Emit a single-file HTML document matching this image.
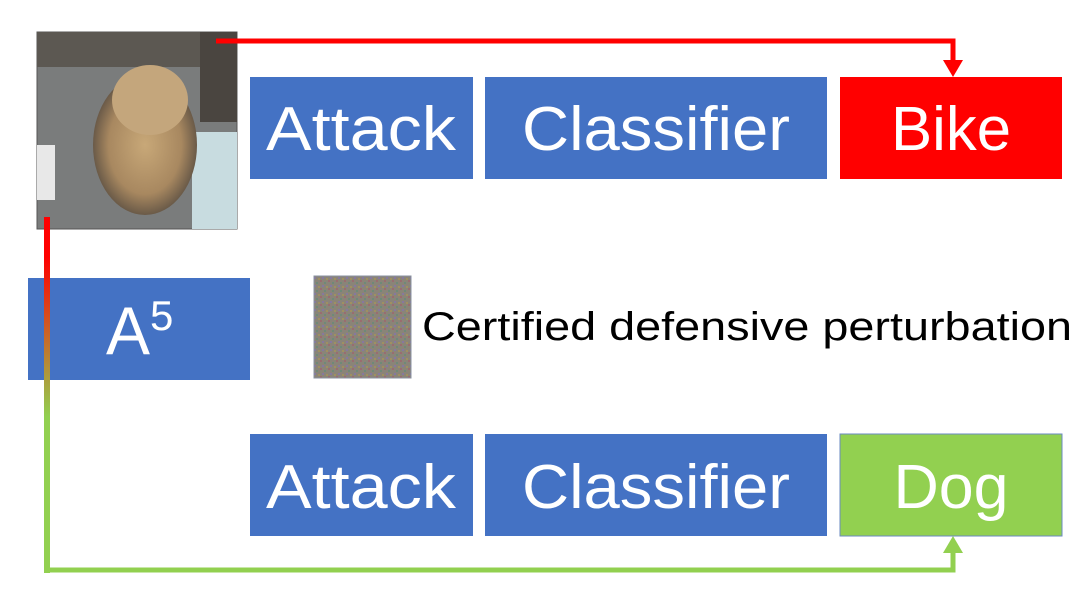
<!DOCTYPE html>
<html><head><meta charset="utf-8"><style>
html,body{margin:0;padding:0;background:#fff;}
svg{display:block}
text{font-family:"Liberation Sans",sans-serif;}
</style></head><body>
<svg width="1090" height="613" viewBox="0 0 1090 613" xmlns="http://www.w3.org/2000/svg">
<defs>
<linearGradient id="vg" x1="0" y1="0" x2="0" y2="1">
<stop offset="0" stop-color="#ff0000"/><stop offset="0.2" stop-color="#ff0000"/><stop offset="1" stop-color="#92d050"/>
</linearGradient>
<radialGradient id="dogg" cx="0.5" cy="0.5" r="0.5">
<stop offset="0" stop-color="#c8a878"/><stop offset="0.7" stop-color="#a88860"/><stop offset="1" stop-color="#6a5a48"/>
</radialGradient>
<pattern id="noise" width="8" height="8" patternUnits="userSpaceOnUse">
<rect width="8" height="8" fill="#8a8478"/>
<rect x="0" y="0" width="2" height="2" fill="#9a6c70"/>
<rect x="4" y="2" width="2" height="2" fill="#6e8a78"/>
<rect x="2" y="5" width="2" height="2" fill="#8678a0"/>
<rect x="6" y="6" width="2" height="2" fill="#a09060"/>
</pattern>
</defs>
<!-- dog image -->
<rect x="37" y="32" width="200" height="197" fill="#7a7c7c" stroke="#555" stroke-width="1"/>
<rect x="37" y="32" width="200" height="35" fill="#5c5852"/>
<rect x="200" y="32" width="37" height="90" fill="#4a4540"/>
<rect x="37" y="145" width="18" height="55" fill="#e8e8e8"/>
<rect x="192" y="132" width="45" height="97" fill="#c8dce0"/>
<ellipse cx="145" cy="145" rx="52" ry="70" fill="url(#dogg)"/>
<ellipse cx="150" cy="100" rx="38" ry="35" fill="#c4a67c"/>
<!-- red connector -->
<polyline points="216,41 953,41 953,62" fill="none" stroke="#ff0000" stroke-width="5"/>
<polygon points="943,60 963,60 953,77" fill="#ff0000"/>
<!-- top row -->
<rect x="250" y="77" width="223" height="102" fill="#4472c4"/>
<rect x="485" y="77" width="342" height="102" fill="#4472c4"/>
<rect x="840" y="77" width="222" height="102" fill="#ff0000"/>
<text x="361" y="150" font-size="62" fill="#fff" text-anchor="middle" textLength="190" lengthAdjust="spacingAndGlyphs">Attack</text>
<text x="656" y="150" font-size="62" fill="#fff" text-anchor="middle" textLength="268" lengthAdjust="spacingAndGlyphs">Classifier</text>
<text x="951" y="150" font-size="62" fill="#fff" text-anchor="middle" textLength="120" lengthAdjust="spacingAndGlyphs">Bike</text>
<!-- A5 -->
<rect x="28" y="278" width="222" height="102" fill="#4472c4"/>
<text x="106" y="354" font-size="68" fill="#fff" textLength="44" lengthAdjust="spacingAndGlyphs">A</text>
<text x="150" y="330" font-size="42" fill="#fff">5</text>
<!-- perturbation -->
<rect x="314" y="276" width="97" height="102" fill="url(#noise)" stroke="#8890a0" stroke-width="1"/>
<text x="422" y="340" font-size="40" fill="#000" textLength="650" lengthAdjust="spacingAndGlyphs">Certified defensive perturbation</text>
<!-- vertical gradient line -->
<rect x="44" y="217" width="6" height="200" fill="url(#vg)"/>
<rect x="44" y="416" width="6" height="157" fill="#92d050"/>
<!-- green connector -->
<polyline points="47,570 953,570 953,552" fill="none" stroke="#92d050" stroke-width="5"/>
<polygon points="943,553 963,553 953,536" fill="#92d050"/>
<!-- bottom row -->
<rect x="250" y="434" width="223" height="102" fill="#4472c4"/>
<rect x="485" y="434" width="342" height="102" fill="#4472c4"/>
<rect x="840" y="434" width="222" height="102" fill="#92d050" stroke="#6a8ac0" stroke-width="1"/>
<text x="361" y="508" font-size="62" fill="#fff" text-anchor="middle" textLength="190" lengthAdjust="spacingAndGlyphs">Attack</text>
<text x="656" y="508" font-size="62" fill="#fff" text-anchor="middle" textLength="268" lengthAdjust="spacingAndGlyphs">Classifier</text>
<text x="951" y="508" font-size="62" fill="#fff" text-anchor="middle" textLength="115" lengthAdjust="spacingAndGlyphs">Dog</text>
</svg>
</body></html>
